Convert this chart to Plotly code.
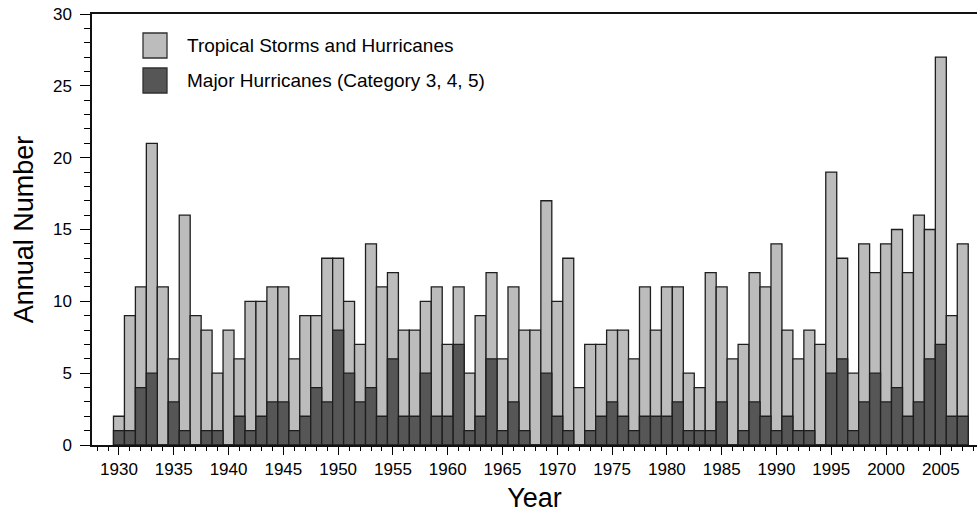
import plotly.graph_objects as go

# Atlantic tropical cyclone counts per season
years = list(range(1930, 2008))
all_storms = [
    2, 9, 11, 21, 11, 6, 16, 9, 8, 5,      # 1930s
    8, 6, 10, 10, 11, 11, 6, 9, 9, 13,     # 1940s
    13, 10, 7, 14, 11, 12, 8, 8, 10, 11,   # 1950s
    7, 11, 5, 9, 12, 6, 11, 8, 8, 17,      # 1960s
    10, 13, 4, 7, 7, 8, 8, 6, 11, 8,       # 1970s
    11, 11, 5, 4, 12, 11, 6, 7, 12, 11,    # 1980s
    14, 8, 6, 8, 7, 19, 13, 5, 14, 12,     # 1990s
    14, 15, 12, 16, 15, 27, 9, 14,         # 2000s
]
major = [
    1, 1, 4, 5, 0, 3, 1, 0, 1, 1,
    0, 2, 1, 2, 3, 3, 1, 2, 4, 3,
    8, 5, 3, 4, 2, 6, 2, 2, 5, 2,
    2, 7, 1, 2, 6, 1, 3, 1, 0, 5,
    2, 1, 0, 1, 2, 3, 2, 1, 2, 2,
    2, 3, 1, 1, 1, 3, 0, 1, 3, 2,
    1, 2, 1, 1, 0, 5, 6, 1, 3, 5,
    3, 4, 2, 3, 6, 7, 2, 2,
]

series_names = ["Tropical Storms and Hurricanes", "Major Hurricanes (Category 3, 4, 5)"]
light = "#bcbcbc"
dark = "#565656"
edge = "#1e1e1e"
font_family = "Liberation Sans, Arial, sans-serif"

fig = go.Figure()
fig.add_trace(go.Bar(
    x=years, y=all_storms, name=series_names[0], width=1.0,
    marker=dict(color=light, line=dict(color=edge, width=1.3)),
    showlegend=False,
))
fig.add_trace(go.Bar(
    x=years, y=major, name=series_names[1], width=1.0,
    marker=dict(color=dark, line=dict(color=edge, width=1.3)),
    showlegend=False,
))

# Legend drawn as swatches + labels in the upper-left of the plot
W, H = 978, 513
ML, MR, MT, MB = 92, 1, 14, 68
pw, ph = W - ML - MR, H - MT - MB
swatch_x0, swatch_x1 = 143, 167
rows = [(33, 58, light), (68, 93, dark)]
for (y0, y1, col), label in zip(rows, series_names):
    fig.add_shape(
        type="rect", xref="paper", yref="paper",
        x0=(swatch_x0 - ML) / pw, x1=(swatch_x1 - ML) / pw,
        y0=1 - (y1 - MT) / ph, y1=1 - (y0 - MT) / ph,
        fillcolor=col, line=dict(color="#303030", width=1.3),
    )
    fig.add_annotation(
        xref="paper", yref="paper",
        x=(185 - ML) / pw, y=1 - ((y0 + y1) / 2 - MT) / ph,
        xanchor="left", yanchor="middle", showarrow=False,
        text=label, font=dict(family=font_family, size=19, color="#000"),
    )

fig.update_layout(
    width=W, height=H,
    margin=dict(l=ML, r=MR, t=MT, b=MB),
    barmode="overlay",
    plot_bgcolor="white", paper_bgcolor="white",
    font=dict(family=font_family, color="#000"),
)
fig.update_xaxes(
    range=[1927.54, 2008.3],
    tick0=1930, dtick=5, ticks="outside", ticklen=8, tickwidth=1.2, tickcolor="#000",
    minor=dict(dtick=1, tick0=1930, ticks="outside", ticklen=4, tickwidth=1.2, tickcolor="#000"),
    tickfont=dict(size=17), ticklabelstandoff=0,
    showline=True, linecolor="#111", linewidth=1.5, mirror=True,
    showgrid=False, zeroline=False,
    title=dict(text="Year", font=dict(size=27), standoff=11),
)
fig.update_yaxes(
    range=[0, 30],
    tick0=0, dtick=5, ticks="outside", ticklen=10, tickwidth=1.2, tickcolor="#000",
    minor=dict(dtick=1, ticks="outside", ticklen=6, tickwidth=1.2, tickcolor="#000"),
    tickfont=dict(size=17), ticklabelstandoff=5,
    showline=True, linecolor="#111", linewidth=1.5,
    showgrid=False, zeroline=False,
    title=dict(text="Annual Number", font=dict(size=27), standoff=11),
)

fig.write_html("out.html")
